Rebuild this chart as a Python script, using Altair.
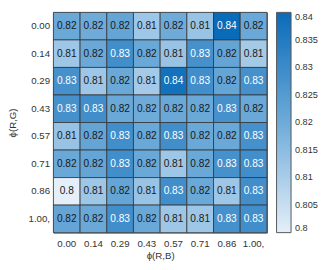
import altair as alt
import pandas as pd

rg_labels = ["0.00", "0.14", "0.29", "0.43", "0.57", "0.71", "0.86", "1.00,"]
rb_labels = ["0.00", "0.14", "0.29", "0.43", "0.57", "0.71", "0.86", "1.00,"]

# rows = phi(R,G), columns = phi(R,B)
values = [
    [0.821, 0.820, 0.822, 0.812, 0.820, 0.813, 0.840, 0.821],
    [0.812, 0.821, 0.829, 0.821, 0.813, 0.828, 0.822, 0.811],
    [0.828, 0.812, 0.821, 0.811, 0.838, 0.829, 0.822, 0.828],
    [0.828, 0.829, 0.821, 0.820, 0.821, 0.821, 0.828, 0.821],
    [0.813, 0.822, 0.829, 0.821, 0.829, 0.821, 0.821, 0.828],
    [0.821, 0.822, 0.829, 0.821, 0.812, 0.821, 0.828, 0.829],
    [0.800, 0.812, 0.822, 0.813, 0.829, 0.821, 0.812, 0.829],
    [0.822, 0.821, 0.829, 0.821, 0.812, 0.812, 0.828, 0.829],
]

legend_values = [0.8, 0.805, 0.81, 0.815, 0.82, 0.825, 0.83, 0.835, 0.84]

rows = []
for i, rg in enumerate(rg_labels):
    for j, rb in enumerate(rb_labels):
        rows.append({"rg": rg, "rb": rb, "v": values[i][j]})
df = pd.DataFrame(rows)

FONT = "Liberation Sans"
W, H = 221, 228

x = alt.X("rb:O", sort=rb_labels, scale=alt.Scale(paddingInner=0, paddingOuter=0),
          axis=alt.Axis(title="ϕ(R,B)", ticks=False, domain=False, labelAngle=0,
                        labelPadding=6, titlePadding=3, labelFontSize=10, titleFontSize=10,
                        labelColor="#333", titleColor="#333", titleFontWeight="normal",
                        labelFont=FONT, titleFont=FONT))
y = alt.Y("rg:O", sort=rg_labels, scale=alt.Scale(paddingInner=0, paddingOuter=0),
          axis=alt.Axis(title="ϕ(R,G)", ticks=False, domain=False,
                        labelPadding=4, titlePadding=11, labelFontSize=10, titleFontSize=10,
                        labelColor="#333", titleColor="#333", titleFontWeight="normal",
                        labelFont=FONT, titleFont=FONT))

color = alt.Color("v:Q",
                  scale=alt.Scale(domain=[0.8, 0.82, 0.84],
                                  range=["#e5eff9", "#6eabd9", "#0a6bb9"],
                                  interpolate="rgb"),
                  legend=alt.Legend(title=None, orient="none", legendX=231, legendY=0,
                                    direction="vertical", gradientLength=H,
                                    gradientThickness=15, values=legend_values,
                                    format=".3~f", labelFontSize=9.5, labelFont=FONT,
                                    labelColor="#333", labelOffset=4,
                                    gradientStrokeColor="#555", gradientStrokeWidth=1,
                                    padding=0))

rects = alt.Chart(df).mark_rect(stroke="#333", strokeWidth=0.8).encode(
    x=x, y=y, color=color)

texts = alt.Chart(df).mark_text(fontSize=10.5, font=FONT).encode(
    x=alt.X("rb:O", sort=rb_labels),
    y=alt.Y("rg:O", sort=rg_labels),
    text=alt.Text("v:Q", format=".2~f"),
    color=alt.condition(alt.datum.v >= 0.825, alt.value("white"), alt.value("#1a1a1a")),
)

chart = (rects + texts).properties(
    width=W, height=H,
    autosize=alt.AutoSizeParams(type="none"),
    padding={"left": 47, "top": 0, "right": 56, "bottom": 30},
).configure_view(stroke="#555", strokeWidth=1)

chart.save("out.html", embed_options={"renderer": "svg", "actions": False})
